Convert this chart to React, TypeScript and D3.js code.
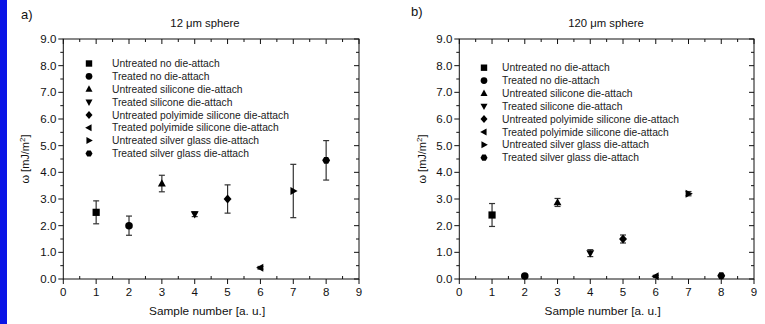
import React from "react";
import * as d3 from "d3";

const samples = [1, 2, 3, 4, 5, 6, 7, 8];
const legendLabels = [
  "Untreated no die-attach",
  "Treated no die-attach",
  "Untreated silicone die-attach",
  "Treated silicone die-attach",
  "Untreated polyimide silicone die-attach",
  "Treated polyimide silicone die-attach",
  "Untreated silver glass die-attach",
  "Treated silver glass die-attach",
];
const shapes = ["square", "circle", "up", "down", "diamond", "left", "right", "hexagon"];
const valuesA = [2.5, 2.0, 3.58, 2.43, 3.0, 0.42, 3.3, 4.45];
const errA = [0.43, 0.36, 0.31, 0.09, 0.53, 0.05, 1.0, 0.74];
const valuesB = [2.4, 0.11, 2.87, 0.97, 1.5, 0.1, 3.2, 0.12];
const errB = [0.43, 0.03, 0.15, 0.13, 0.15, 0.04, 0.08, 0.03];
const xTicks = [0, 1, 2, 3, 4, 5, 6, 7, 8, 9];
const yTicks = [0, 1, 2, 3, 4, 5, 6, 7, 8, 9];

const FONT = "'Liberation Sans', Arial, sans-serif";

function markerPath(shape: string, r: number): string {
  switch (shape) {
    case "square":
      return `M${-r},${-r}H${r}V${r}H${-r}Z`;
    case "circle":
      return d3.symbol().type(d3.symbolCircle).size(Math.PI * r * r * 1.1)() as string;
    case "up":
      return `M0,${-r * 1.2}L${r * 1.1},${r * 0.8}L${-r * 1.1},${r * 0.8}Z`;
    case "down":
      return `M0,${r * 1.2}L${r * 1.1},${-r * 0.8}L${-r * 1.1},${-r * 0.8}Z`;
    case "diamond":
      return `M0,${-r * 1.25}L${r * 1.1},0L0,${r * 1.25}L${-r * 1.1},0Z`;
    case "left":
      return `M${-r * 1.2},0L${r * 0.8},${-r * 1.1}L${r * 0.8},${r * 1.1}Z`;
    case "right":
      return `M${r * 1.2},0L${-r * 0.8},${-r * 1.1}L${-r * 0.8},${r * 1.1}Z`;
    default: {
      const pts = d3.range(6).map((i) => {
        const a = (Math.PI / 3) * i;
        return [r * 1.1 * Math.cos(a), r * 1.1 * Math.sin(a)];
      });
      return "M" + pts.map((p) => p.join(",")).join("L") + "Z";
    }
  }
}

interface PanelProps {
  x0: number;
  x1: number;
  label: string;
  title: string;
  titleX: number;
  labelX: number;
  labelY: number;
  values: number[];
  errs: number[];
  legendSymX: number;
  legendTextX: number;
  legendY0: number;
  yLabelX: number;
}

function Panel(p: PanelProps) {
  const top = 39;
  const bottom = 279;
  const xs = d3.scaleLinear().domain([0, 9]).range([p.x0, p.x1]);
  const ys = d3.scaleLinear().domain([0, 9]).range([bottom, top]);
  const xMinor = d3.range(0.5, 9, 1);
  const yMinor = d3.range(0.5, 9, 1);
  const midY = (top + bottom) / 2;
  const midX = (p.x0 + p.x1) / 2;
  return (
    <g>
      <text x={p.labelX} y={p.labelY} fontFamily={FONT} fontSize={13} fill="#111">
        {p.label}
      </text>
      <text x={p.titleX} y={27} fontFamily={FONT} fontSize={11.3} textAnchor="middle" fill="#111">
        {p.title}
      </text>
      <rect x={p.x0} y={top} width={p.x1 - p.x0} height={bottom - top} fill="none" stroke="#111" strokeWidth={1} />
      {xTicks.map((t) => (
        <g key={"xt" + t}>
          <line x1={xs(t)} x2={xs(t)} y1={bottom} y2={bottom + 5} stroke="#111" />
          <line x1={xs(t)} x2={xs(t)} y1={top} y2={top + 5} stroke="#111" />
          <text x={xs(t)} y={bottom + 17} fontFamily={FONT} fontSize={11.5} textAnchor="middle" fill="#111">
            {t}
          </text>
        </g>
      ))}
      {xMinor.map((t) => (
        <g key={"xm" + t}>
          <line x1={xs(t)} x2={xs(t)} y1={bottom} y2={bottom - 3} stroke="#111" />
          <line x1={xs(t)} x2={xs(t)} y1={top} y2={top + 3} stroke="#111" />
        </g>
      ))}
      {yTicks.map((t) => (
        <g key={"yt" + t}>
          <line x1={p.x0 - 5} x2={p.x0} y1={ys(t)} y2={ys(t)} stroke="#111" />
          <line x1={p.x1 - 5} x2={p.x1} y1={ys(t)} y2={ys(t)} stroke="#111" />
          <text x={p.x0 - 7} y={ys(t) + 4} fontFamily={FONT} fontSize={11.5} textAnchor="end" fill="#111">
            {d3.format(".1f")(t)}
          </text>
        </g>
      ))}
      {yMinor.map((t) => (
        <g key={"ym" + t}>
          <line x1={p.x0 - 3} x2={p.x0} y1={ys(t)} y2={ys(t)} stroke="#111" />
          <line x1={p.x1 - 3} x2={p.x1} y1={ys(t)} y2={ys(t)} stroke="#111" />
        </g>
      ))}
      <text x={midX - 4} y={315} fontFamily={FONT} fontSize={11.8} textAnchor="middle" fill="#111">
        Sample number [a. u.]
      </text>
      <text
        transform={`translate(${p.yLabelX},${midY}) rotate(-90)`}
        fontFamily={FONT}
        fontSize={11}
        textAnchor="middle"
        fill="#111"
      >
        ω [mJ/m<tspan dy={-4} fontSize={8}>2</tspan>
        <tspan dy={4}>]</tspan>
      </text>
      {legendLabels.map((l, i) => (
        <g key={"lg" + i}>
          <path
            d={markerPath(shapes[i], 3.2)}
            transform={`translate(${p.legendSymX},${p.legendY0 + i * 12.85})`}
            fill="#000"
          />
          <text
            x={p.legendTextX}
            y={p.legendY0 + i * 12.85 + 3.6}
            fontFamily={FONT}
            fontSize={10.3}
            fill="#222"
          >
            {l}
          </text>
        </g>
      ))}
      {samples.map((s, i) => {
        const cx = xs(s);
        const yTop = ys(p.values[i] + p.errs[i]);
        const yBot = ys(p.values[i] - p.errs[i]);
        return (
          <g key={"d" + i}>
            <line x1={cx} x2={cx} y1={yTop} y2={yBot} stroke="#333" strokeWidth={1.2} />
            <line x1={cx - 3} x2={cx + 3} y1={yTop} y2={yTop} stroke="#333" strokeWidth={1.2} />
            <line x1={cx - 3} x2={cx + 3} y1={yBot} y2={yBot} stroke="#333" strokeWidth={1.2} />
            <path d={markerPath(shapes[i], 3.6)} transform={`translate(${cx},${ys(p.values[i])})`} fill="#000" />
          </g>
        );
      })}
    </g>
  );
}

export default function App() {
  return (
    <svg
      width={765}
      height={324}
      style={{ position: "absolute", left: 0, top: 0, background: "#fff" }}
    >
      <rect x={0} y={0} width={765} height={324} fill="#fff" />
      <rect x={0} y={0} width={7} height={324} fill="#0a14e6" />
      <Panel
        x0={63.3}
        x1={359}
        label="a)"
        title="12 μm sphere"
        titleX={205}
        labelX={21}
        labelY={19}
        values={valuesA}
        errs={errA}
        legendSymX={89}
        legendTextX={112}
        legendY0={63.5}
        yLabelX={29}
      />
      <Panel
        x0={459.3}
        x1={754}
        label="b)"
        title="120 μm sphere"
        titleX={606}
        labelX={411}
        labelY={16}
        values={valuesB}
        errs={errB}
        legendSymX={484}
        legendTextX={502}
        legendY0={67.7}
        yLabelX={426}
      />
    </svg>
  );
}
